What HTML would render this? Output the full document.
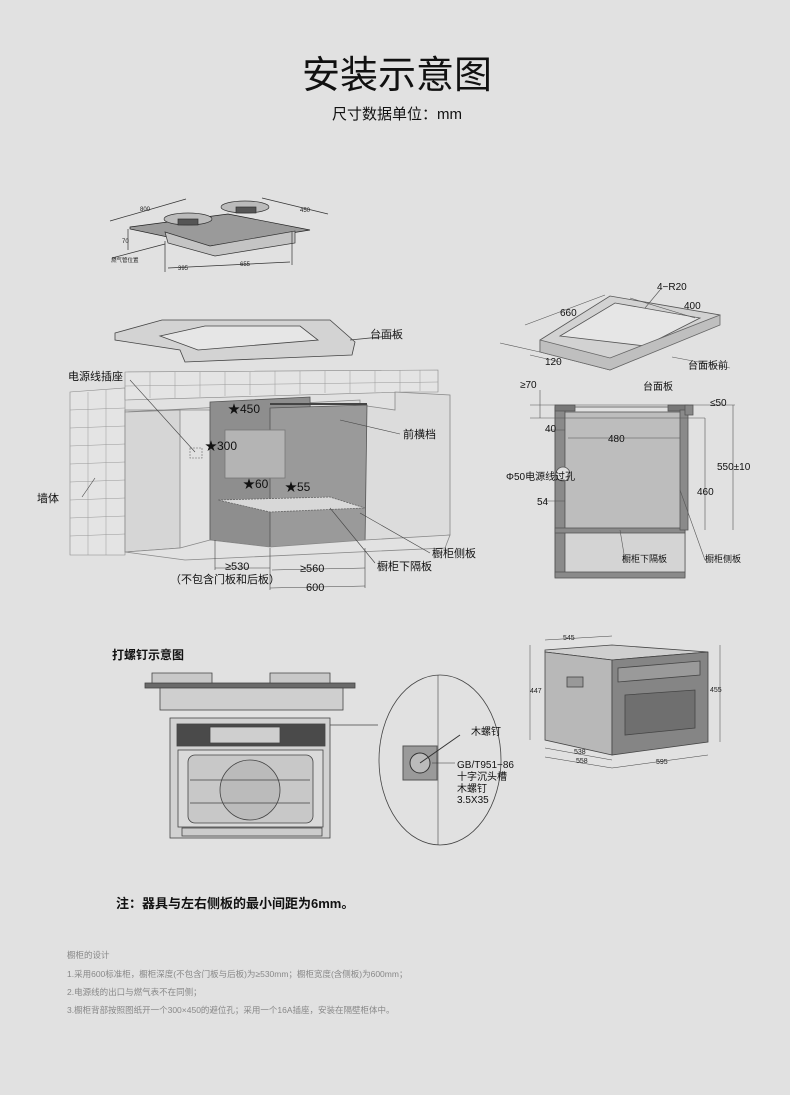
<!DOCTYPE html>
<html><head><meta charset="utf-8"><style>
html,body{margin:0;padding:0;background:#e1e1e1;}
body{width:790px;height:1095px;overflow:hidden;position:relative;font-family:"Liberation Sans","Noto Sans CJK SC",sans-serif;}
svg{position:absolute;left:0;top:0}
svg text{font-family:"Liberation Sans","Noto Sans CJK SC",sans-serif;}
</style></head><body>
<svg width="790" height="1095" viewBox="0 0 790 1095" xmlns="http://www.w3.org/2000/svg">
<rect width="790" height="1095" fill="#e1e1e1"/>
<text x="397" y="88" font-size="38" text-anchor="middle" fill="#111">安装示意图</text>
<text x="397" y="119" font-size="15" text-anchor="middle" fill="#111">尺寸数据单位：mm</text>

<!-- cooktop top -->
<g stroke="#333" stroke-width="0.7" fill="none">
<polygon points="130,227 228,214 310,230 210,246 130,229" fill="#9a9a9a" stroke="#222"/>
<polygon points="165,232 210,246 295,231 295,243 215,256 168,243" fill="#c4c4c4"/>
<ellipse cx="188" cy="219" rx="24" ry="6" fill="#bbb"/>
<ellipse cx="245" cy="207" rx="24" ry="6" fill="#bbb"/>
<rect x="178" y="219" width="20" height="6" fill="#555"/>
<rect x="236" y="207" width="20" height="6" fill="#555"/>
<line x1="110" y1="221" x2="186" y2="199"/><line x1="262" y1="198" x2="328" y2="214"/>
<line x1="128" y1="229" x2="128" y2="250"/><line x1="165" y1="241" x2="165" y2="272"/>
<line x1="292" y1="232" x2="292" y2="265"/><line x1="168" y1="268" x2="290" y2="262"/>
<line x1="112" y1="258" x2="165" y2="244"/>
</g>
<g font-size="6" fill="#222"><text x="140" y="211">800</text><text x="300" y="212">450</text><text x="122" y="243">70</text><text x="178" y="270">395</text><text x="240" y="266">655</text><text x="111" y="262" font-size="5.5">燃气管位置</text></g>

<!-- countertop slab -->
<g stroke="#444" stroke-width="0.8">
<polygon points="115,333 162,320 330,320 355,342 352,355 185,362 180,350 115,340" fill="#d3d3d3"/>
<polygon points="160,336 205,326 300,326 318,340 198,350" fill="#e6e6e6"/>
<line x1="350" y1="340" x2="400" y2="335" fill="none"/>
</g>
<text x="370" y="338" font-size="11" fill="#222">台面板</text>

<!-- wall tiles -->
<g stroke="#888" stroke-width="0.6" fill="#e4e4e4">
<polygon points="70,392 125,388 125,555 70,555"/>
<polygon points="125,388 125,372 438,370 438,392 405,392 125,400"/>
</g>
<g stroke="#999" stroke-width="0.5">
<line x1="88" y1="392" x2="88" y2="555"/><line x1="106" y1="390" x2="106" y2="555"/>
<line x1="70" y1="410" x2="125" y2="408"/><line x1="70" y1="428" x2="125" y2="426"/><line x1="70" y1="446" x2="125" y2="444"/>
<line x1="70" y1="464" x2="125" y2="462"/><line x1="70" y1="482" x2="125" y2="480"/><line x1="70" y1="500" x2="125" y2="498"/>
<line x1="70" y1="518" x2="125" y2="516"/><line x1="70" y1="536" x2="125" y2="534"/>
<line x1="125" y1="386" x2="438" y2="382"/>
<line x1="150" y1="372" x2="150" y2="398"/><line x1="175" y1="372" x2="175" y2="398"/><line x1="200" y1="372" x2="200" y2="397"/>
<line x1="225" y1="372" x2="225" y2="396"/><line x1="250" y1="372" x2="250" y2="395"/><line x1="275" y1="371" x2="275" y2="395"/>
<line x1="300" y1="371" x2="300" y2="394"/><line x1="325" y1="371" x2="325" y2="393"/><line x1="350" y1="371" x2="350" y2="393"/>
<line x1="375" y1="371" x2="375" y2="392"/><line x1="400" y1="370" x2="400" y2="392"/><line x1="420" y1="370" x2="420" y2="391"/>
</g>
<!-- cabinet -->
<g stroke="#888" stroke-width="0.8">
<polygon points="125,410 210,410 210,540 355,545 450,535 450,395 395,392 395,410 360,405 360,400 125,412" fill="#dcdcdc"/>
<polygon points="125,412 180,410 180,548 125,552" fill="#d6d6d6"/>
<polygon points="210,402 310,397 312,540 268,547 210,540" fill="#8e8e8e" stroke="#555"/>
<polygon points="270,408 367,405 365,545 270,547" fill="#9a9a9a" stroke="#555"/>
<polygon points="125,552 185,560 445,548 450,535 365,540 270,547 210,540 180,548" fill="#e2e2e2"/>
<rect x="225" y="430" width="60" height="48" fill="#b4b4b4" stroke="#777"/>
<polygon points="218,500 330,497 365,508 270,512" fill="#d8d8d8" stroke="#666" stroke-dasharray="2,1"/>
<rect x="190" y="448" width="12" height="10" fill="none" stroke-dasharray="2,1"/>
<line x1="270" y1="404" x2="367" y2="404" stroke="#444" stroke-width="2"/>
</g>
<g font-size="12" fill="#111"><text x="228" y="413">★450</text><text x="205" y="450">★300</text><text x="243" y="488">★60</text><text x="285" y="491">★55</text></g>
<g stroke="#444" stroke-width="0.6" fill="none">
<line x1="130" y1="380" x2="195" y2="452"/><line x1="82" y1="497" x2="95" y2="478"/>
<line x1="340" y1="420" x2="400" y2="434"/><line x1="360" y1="513" x2="430" y2="553"/><line x1="330" y1="508" x2="375" y2="563"/>
<line x1="215" y1="568" x2="270" y2="568"/><line x1="272" y1="570" x2="365" y2="568"/><line x1="270" y1="588" x2="365" y2="586"/>
<line x1="215" y1="540" x2="215" y2="570"/><line x1="270" y1="548" x2="270" y2="590"/><line x1="365" y1="548" x2="365" y2="588"/>
</g>
<g font-size="11" fill="#111">
<text x="68" y="380">电源线插座</text><text x="403" y="438">前横档</text><text x="37" y="502">墙体</text>
<text x="432" y="557">橱柜侧板</text><text x="377" y="570">橱柜下隔板</text>
<text x="225" y="570">≥530</text><text x="300" y="572">≥560</text><text x="170" y="583">（不包含门板和后板）</text><text x="306" y="591">600</text>
</g>

<!-- right top plate -->
<g stroke="#555" stroke-width="0.8">
<polygon points="540,340 610,296 720,315 718,325 610,370 540,352" fill="#d2d2d2"/>
<polygon points="560,336 615,303 700,318 645,346" fill="#e6e6e6"/>
<polygon points="540,340 610,358 720,315 720,325 610,370 540,352" fill="#bfbfbf" stroke="#666"/>
<g fill="none" stroke-width="0.6"><line x1="525" y1="325" x2="605" y2="295"/><line x1="630" y1="298" x2="695" y2="318"/><line x1="500" y1="343" x2="540" y2="352"/><line x1="530" y1="355" x2="560" y2="362"/><line x1="660" y1="290" x2="645" y2="308"/><line x1="672" y1="357" x2="730" y2="368"/></g>
</g>
<g font-size="10" fill="#111"><text x="560" y="316">660</text><text x="684" y="309">400</text><text x="657" y="290">4−R20</text><text x="545" y="365">120</text><text x="688" y="369">台面板前</text></g>

<!-- section view -->
<g stroke="#555" stroke-width="0.8">
<rect x="555" y="407" width="10" height="170" fill="#8a8a8a"/>
<rect x="555" y="407" width="130" height="170" fill="none"/>
<rect x="565" y="412" width="120" height="118" fill="#bdbdbd"/>
<rect x="565" y="531" width="120" height="42" fill="#d4d4d4" stroke="#555"/>
<rect x="555" y="572" width="130" height="6" fill="#8a8a8a"/>
<rect x="555" y="528" width="130" height="5" fill="#8a8a8a"/>
<rect x="555" y="405" width="20" height="6" fill="#777"/>
<rect x="668" y="405" width="20" height="6" fill="#777"/>
<rect x="680" y="410" width="8" height="120" fill="#8a8a8a"/>
<rect x="685" y="405" width="8" height="10" fill="#888"/>
<circle cx="563" cy="474" r="7" fill="#e0e0e0"/>
<g fill="none" stroke-width="0.6"><line x1="530" y1="405" x2="735" y2="405"/><line x1="530" y1="418" x2="705" y2="418"/><line x1="568" y1="438" x2="680" y2="438"/><line x1="545" y1="430" x2="565" y2="430"/><line x1="545" y1="501" x2="565" y2="501"/><line x1="705" y1="418" x2="705" y2="530"/><line x1="733" y1="405" x2="733" y2="530"/><line x1="540" y1="390" x2="540" y2="418"/><line x1="620" y1="530" x2="625" y2="560"/><line x1="680" y1="490" x2="705" y2="560"/></g>
</g>
<g font-size="10" fill="#111"><text x="520" y="388">≥70</text><text x="643" y="390">台面板</text><text x="710" y="406">≤50</text><text x="608" y="442">480</text><text x="545" y="432">40</text><text x="506" y="480">Φ50电源线过孔</text><text x="537" y="505">54</text><text x="717" y="470">550±10</text><text x="697" y="495">460</text><text x="622" y="562" font-size="9">橱柜下隔板</text><text x="705" y="562" font-size="9">橱柜侧板</text></g>

<!-- 打螺钉 -->
<text x="112" y="659" font-size="12" font-weight="bold" fill="#111">打螺钉示意图</text>
<g stroke="#444" stroke-width="0.8">
<rect x="145" y="683" width="210" height="5" fill="#6a6a6a"/>
<rect x="160" y="688" width="183" height="22" fill="#cfcfcf"/>
<path d="M152,673 h60 v10 h-60z M270,673 h60 v10 h-60z" fill="#c8c8c8"/>
<rect x="170" y="718" width="160" height="120" fill="#d2d2d2"/>
<rect x="177" y="724" width="148" height="22" fill="#4a4a4a"/>
<rect x="210" y="727" width="70" height="16" fill="#cfcfcf"/>
<rect x="178" y="750" width="145" height="77" fill="#dadada"/>
<rect x="188" y="755" width="125" height="68" rx="7" fill="#c8c8c8"/>
<circle cx="250" cy="790" r="30" fill="#bbb"/>
<line x1="190" y1="780" x2="310" y2="780"/><line x1="190" y1="803" x2="310" y2="803"/>
<rect x="182" y="828" width="140" height="8" fill="#ccc"/>
<line x1="330" y1="725" x2="378" y2="725" fill="none"/>
</g>
<ellipse cx="440" cy="760" rx="61" ry="85" fill="none" stroke="#444" stroke-width="0.8"/>
<line x1="438" y1="675" x2="438" y2="845" stroke="#444" stroke-width="0.6"/>
<rect x="403" y="746" width="34" height="34" fill="#9a9a9a" stroke="#555"/>
<circle cx="420" cy="763" r="10" fill="#bbb" stroke="#333"/>
<line x1="420" y1="763" x2="460" y2="735" stroke="#333"/>
<line x1="432" y1="763" x2="455" y2="763" stroke="#333" stroke-width="0.5"/>
<g font-size="10" fill="#111"><text x="471" y="735">木螺钉</text><text x="457" y="768">GB/T951−86</text><text x="457" y="780">十字沉头槽</text><text x="457" y="792">木螺钉</text><text x="457" y="803">3.5X35</text></g>

<!-- oven iso -->
<g stroke="#444" stroke-width="0.8">
<polygon points="545,650 612,645 708,652 612,660 545,652" fill="#cfcfcf"/>
<polygon points="545,652 612,660 612,755 545,740" fill="#b8b8b8"/>
<polygon points="612,660 708,652 708,742 612,755" fill="#858585"/>
<polygon points="618,668 700,661 700,675 618,682" fill="#9a9a9a"/>
<polygon points="625,695 695,690 695,728 625,735" fill="#6f6f6f"/>
<rect x="567" y="677" width="16" height="10" fill="#999"/>
<g fill="none" stroke-width="0.5"><line x1="530" y1="645" x2="530" y2="740"/><line x1="720" y1="645" x2="720" y2="742"/><line x1="545" y1="748" x2="612" y2="760"/><line x1="545" y1="757" x2="612" y2="768"/><line x1="612" y1="768" x2="708" y2="755"/><line x1="545" y1="640" x2="612" y2="636"/></g>
</g>
<g font-size="7" fill="#222"><text x="563" y="640">545</text><text x="530" y="693">447</text><text x="710" y="692">455</text><text x="574" y="754">538</text><text x="576" y="763">558</text><text x="656" y="764">595</text></g>

<text x="116" y="908" font-size="13" font-weight="bold" fill="#111">注：器具与左右侧板的最小间距为6mm。</text>
<g font-size="8.5" fill="#888">
<text x="67" y="958">橱柜的设计</text>
<text x="67" y="977">1.采用600标准柜，橱柜深度(不包含门板与后板)为≥530mm；橱柜宽度(含侧板)为600mm；</text>
<text x="67" y="995">2.电源线的出口与燃气表不在同侧；</text>
<text x="67" y="1013">3.橱柜背部按照图纸开一个300×450的避位孔；采用一个16A插座，安装在隔壁柜体中。</text>
</g>
</svg>
</body></html>
